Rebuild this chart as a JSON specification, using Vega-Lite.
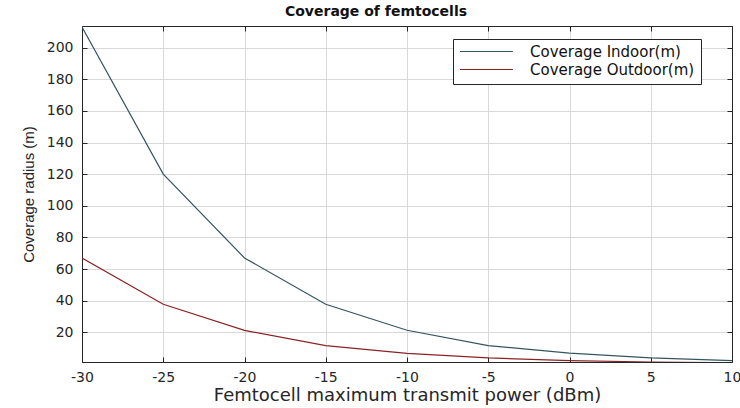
{
  "$schema": "https://vega.github.io/schema/vega-lite/v6.json",
  "autosize": "none",
  "width": 650,
  "height": 336,
  "padding": {"left": 82, "top": 26, "right": 8, "bottom": 46},
  "background": "white",
  "config": {
    "font": "DejaVu Sans",
    "view": {"stroke": "#262626", "strokeWidth": 1},
    "axis": {
      "gridColor": "#d9d9d9",
      "gridWidth": 1,
      "domainColor": "#262626",
      "tickColor": "#262626",
      "labelColor": "#262626",
      "labelFontSize": 14,
      "titleColor": "#262626",
      "titleFontWeight": "normal"
    }
  },
  "title": {
    "text": "Coverage of femtocells",
    "fontSize": 14,
    "fontWeight": "bold",
    "font": "DejaVu Sans",
    "color": "#111111",
    "anchor": "middle",
    "dx": -31,
    "offset": 7
  },
  "data": {
    "values": [
      {"power": -30, "series": "Coverage Indoor(m)", "radius": 213},
      {"power": -25, "series": "Coverage Indoor(m)", "radius": 120},
      {"power": -20, "series": "Coverage Indoor(m)", "radius": 67},
      {"power": -15, "series": "Coverage Indoor(m)", "radius": 37.7},
      {"power": -10, "series": "Coverage Indoor(m)", "radius": 21.3},
      {"power": -5, "series": "Coverage Indoor(m)", "radius": 11.6},
      {"power": 0, "series": "Coverage Indoor(m)", "radius": 6.8},
      {"power": 5, "series": "Coverage Indoor(m)", "radius": 3.8},
      {"power": 10, "series": "Coverage Indoor(m)", "radius": 2.1},
      {"power": -30, "series": "Coverage Outdoor(m)", "radius": 67},
      {"power": -25, "series": "Coverage Outdoor(m)", "radius": 37.7},
      {"power": -20, "series": "Coverage Outdoor(m)", "radius": 21.2},
      {"power": -15, "series": "Coverage Outdoor(m)", "radius": 11.5},
      {"power": -10, "series": "Coverage Outdoor(m)", "radius": 6.7},
      {"power": -5, "series": "Coverage Outdoor(m)", "radius": 3.8},
      {"power": 0, "series": "Coverage Outdoor(m)", "radius": 2.1},
      {"power": 5, "series": "Coverage Outdoor(m)", "radius": 1.2},
      {"power": 10, "series": "Coverage Outdoor(m)", "radius": 0.7}
    ]
  },
  "layer": [
    {
      "mark": {"type": "line", "strokeWidth": 1.2, "clip": true},
      "encoding": {
        "x": {
          "field": "power",
          "type": "quantitative",
          "scale": {"domain": [-30, 10], "nice": false},
          "axis": {
            "values": [-30, -25, -20, -15, -10, -5, 0, 5, 10],
            "labelExpr": "'' + datum.value",
            "title": "Femtocell maximum transmit power (dBm)",
            "titleFontSize": 18,
            "titlePadding": 2,
            "tickSize": -5,
            "labelPadding": 13,
            "labelFlush": false
          }
        },
        "y": {
          "field": "radius",
          "type": "quantitative",
          "scale": {"domain": [1.2, 213.7], "nice": false, "zero": false},
          "axis": {
            "values": [20, 40, 60, 80, 100, 120, 140, 160, 180, 200],
            "title": "Coverage radius (m)",
            "titleFontSize": 15,
            "titleFont": "Liberation Sans",
            "titlePadding": 10,
            "tickSize": -5,
            "labelPadding": 14
          }
        },
        "color": {
          "field": "series",
          "type": "nominal",
          "scale": {"domain": ["Coverage Indoor(m)", "Coverage Outdoor(m)"], "range": ["#34555f", "#8a2424"]},
          "legend": {
            "title": null,
            "orient": "none",
            "legendX": 371,
            "legendY": 13,
            "symbolType": "stroke",
            "symbolSize": 2800,
            "symbolStrokeWidth": 1.2,
            "clipHeight": 13,
            "labelFontSize": 15,
            "labelLimit": 300,
            "labelColor": "#111111",
            "strokeColor": "#262626",
            "fillColor": "white",
            "padding": 6,
            "rowPadding": 2,
            "labelOffset": 16
          }
        }
      }
    },
    {
      "mark": {"type": "line", "opacity": 0},
      "encoding": {
        "x": {
          "field": "power",
          "type": "quantitative",
          "axis": {"orient": "top", "values": [-30, -25, -20, -15, -10, -5, 0, 5, 10], "labels": false, "title": null, "grid": false, "tickSize": -5}
        },
        "y": {
          "field": "radius",
          "type": "quantitative",
          "axis": {"orient": "right", "values": [20, 40, 60, 80, 100, 120, 140, 160, 180, 200], "labels": false, "title": null, "grid": false, "tickSize": -5}
        },
        "detail": {"field": "series"}
      }
    }
  ],
  "resolve": {"axis": {"x": "independent", "y": "independent"}}
}
